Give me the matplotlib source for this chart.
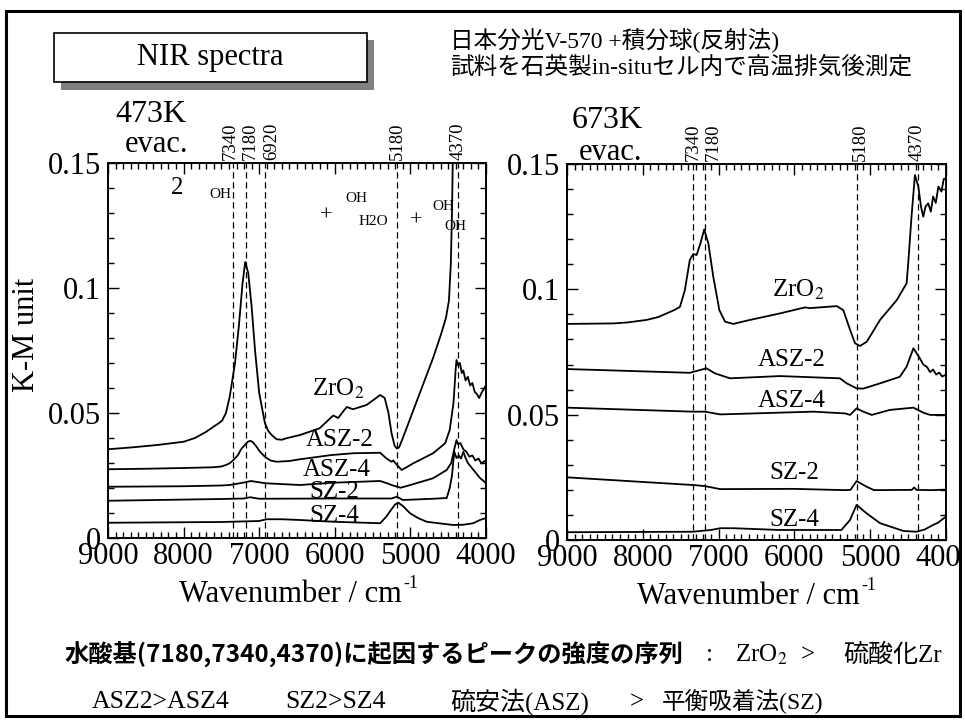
import matplotlib
matplotlib.use("Agg")
from matplotlib import pyplot as plt
from matplotlib.patches import Rectangle
from matplotlib.ticker import MultipleLocator, FixedLocator

plt.rcParams["font.family"] = ["Liberation Serif", "Noto Sans CJK JP"]
plt.rcParams["mathtext.fontset"] = "stix"

# --- 473K evacuation -------------------------------------------------------
zro2_473_wn = [9000, 8700, 8350, 8000, 7850, 7700, 7600, 7530, 7490, 7440, 7390, 7320,
               7270, 7220, 7185, 7145, 7100, 7055, 7000, 6925, 6880, 6835, 6770, 6700,
               6640, 6460, 6200, 6050, 6020, 5955, 5880, 5840, 5760, 5580, 5400, 5340,
               5290, 5250, 5210, 5180, 5150, 5100, 5000, 4900, 4800, 4700, 4600, 4530,
               4490, 4465, 4450, 4435]
zro2_473_km = [0.0355, 0.0362, 0.0372, 0.0385, 0.0400, 0.0425, 0.0446, 0.0460, 0.0470,
               0.0500, 0.0565, 0.0700, 0.0845, 0.1020, 0.1104, 0.1060, 0.0925, 0.0750,
               0.0580, 0.0460, 0.0428, 0.0412, 0.0395, 0.0393, 0.0399, 0.0412, 0.0439,
               0.0482, 0.0490, 0.0480, 0.0510, 0.0524, 0.0515, 0.0532, 0.0572, 0.0560,
               0.0500, 0.0420, 0.0370, 0.0358, 0.0362, 0.0400, 0.0480, 0.0560, 0.0640,
               0.0720, 0.0810, 0.0880, 0.0950, 0.1100, 0.1300, 0.1600]

asz2_473_wn = [9000, 8500, 8000, 7600, 7500, 7440, 7390, 7330, 7280, 7240, 7190, 7150,
               7115, 7080, 7035, 6990, 6925, 6850, 6770, 6600, 6460, 6040, 5755, 5400,
               5320, 5250, 5225, 5200, 5115, 4960, 4700, 4540, 4480, 4430, 4400, 4390,
               4370, 4345, 4320, 4300, 4270, 4240, 4210, 4180, 4150, 4120, 4090, 4060,
               4030, 4000]
asz2_473_km = [0.0275, 0.0277, 0.0280, 0.0283, 0.0286, 0.0292, 0.0299, 0.0315, 0.0332,
               0.0355, 0.0372, 0.0385, 0.0389, 0.0382, 0.0365, 0.0345, 0.0325, 0.0310,
               0.0305, 0.0308, 0.0315, 0.0332, 0.0339, 0.0341, 0.0319, 0.0305, 0.0310,
               0.0300, 0.0272, 0.0299, 0.0339, 0.0379, 0.0432, 0.0540, 0.0680, 0.0712,
               0.0690, 0.0700, 0.0660, 0.0670, 0.0630, 0.0645, 0.0610, 0.0620, 0.0585,
               0.0575, 0.0560, 0.0580, 0.0595, 0.0612]

asz4_473_wn = [9000, 8000, 7500, 7390, 7200, 7110, 6920, 6460, 6040, 5400, 5300, 5250,
               5130, 5000, 4700, 4520, 4460, 4420, 4390, 4370, 4340, 4300, 4260, 4220,
               4180, 4140, 4100, 4060, 4020, 4000]
asz4_473_km = [0.0205, 0.0207, 0.0210, 0.0212, 0.0222, 0.0228, 0.0219, 0.0212, 0.0221,
               0.0228, 0.0218, 0.0212, 0.0201, 0.0212, 0.0239, 0.0272, 0.0300, 0.0355,
               0.0392, 0.0375, 0.0380, 0.0355, 0.0345, 0.0325, 0.0330, 0.0310, 0.0318,
               0.0298, 0.0308, 0.0305]

sz2_473_wn = [9000, 7500, 7200, 7120, 7000, 6000, 5400, 5250, 5180, 5100, 4700, 4520,
              4480, 4450, 4420, 4390, 4360, 4330, 4300, 4270, 4240, 4200, 4160, 4120,
              4080, 4040, 4000]
sz2_473_km = [0.0149, 0.0156, 0.0158, 0.0163, 0.0157, 0.0158, 0.0158, 0.0158, 0.0165,
              0.0152, 0.0157, 0.0160, 0.0200, 0.0250, 0.0345, 0.0320, 0.0330, 0.0318,
              0.0345, 0.0320, 0.0300, 0.0285, 0.0270, 0.0255, 0.0240, 0.0230, 0.0219]

sz4_473_wn = [9000, 7500, 7000, 6900, 6700, 6460, 6020, 5600, 5400, 5320, 5250, 5200,
              5160, 5100, 5005, 4900, 4785, 4600, 4430, 4300, 4170, 4080, 4000]
sz4_473_km = [0.0061, 0.0064, 0.0068, 0.0075, 0.0075, 0.0072, 0.0065, 0.0061, 0.0059,
              0.0085, 0.0115, 0.0135, 0.0141, 0.0128, 0.0099, 0.0080, 0.0065, 0.0058,
              0.0052, 0.0053, 0.0059, 0.0072, 0.0080]

# --- 673K evacuation -------------------------------------------------------
zro2_673_wn = [9000, 8390, 8200, 7950, 7800, 7685, 7580, 7510, 7445, 7380, 7335, 7290,
               7240, 7190, 7135, 7070, 6990, 6915, 6805, 6630, 6190, 5860, 5800, 5440,
               5355, 5265, 5200, 5135, 5045, 4870, 4650, 4520, 4500, 4455, 4410, 4365,
               4330, 4300, 4270, 4235, 4200, 4170, 4135, 4100, 4060, 4030, 4000]
zro2_673_km = [0.0862, 0.0864, 0.0868, 0.0878, 0.0889, 0.0904, 0.0918, 0.0930, 0.0997,
               0.1117, 0.1141, 0.1137, 0.1183, 0.1239, 0.1183, 0.1050, 0.0917, 0.0871,
               0.0862, 0.0875, 0.0904, 0.0928, 0.0925, 0.0933, 0.0917, 0.0838, 0.0785,
               0.0774, 0.0791, 0.0878, 0.0957, 0.1024, 0.1097, 0.1290, 0.1456, 0.1410,
               0.1330, 0.1290, 0.1330, 0.1343, 0.1310, 0.1370, 0.1345, 0.1410, 0.1390,
               0.1440, 0.1443]

asz2_673_wn = [9000, 7380, 7160, 7050, 6850, 6190, 5400, 5310, 5180, 5090, 4870, 4610,
               4520, 4430, 4345, 4300, 4250, 4210, 4170, 4130, 4090, 4050, 4000]
asz2_673_km = [0.0682, 0.0667, 0.0685, 0.0665, 0.0645, 0.0654, 0.0645, 0.0625, 0.0605,
               0.0604, 0.0625, 0.0651, 0.0691, 0.0765, 0.0725, 0.0700, 0.0690, 0.0670,
               0.0680, 0.0660, 0.0668, 0.0652, 0.0660]

asz4_673_wn = [9000, 7340, 7180, 6980, 5750, 5330, 5265, 5180, 5090, 4980, 4740, 4430,
               4300, 4210, 4000]
asz4_673_km = [0.0528, 0.0512, 0.0512, 0.0501, 0.0512, 0.0505, 0.0499, 0.0525, 0.0512,
               0.0499, 0.0519, 0.0528, 0.0508, 0.0499, 0.0499]

sz2_673_wn = [9000, 7320, 7180, 6980, 6000, 5350, 5260, 5180, 5050, 4950, 4450, 4420,
              4390, 4200, 4000]
sz2_673_km = [0.0250, 0.0219, 0.0215, 0.0203, 0.0204, 0.0199, 0.0200, 0.0235, 0.0213,
              0.0199, 0.0200, 0.0210, 0.0200, 0.0199, 0.0201]

sz4_673_wn = [9000, 7340, 7100, 6980, 6800, 6200, 5380, 5266, 5180, 5046, 4870, 4560,
              4390, 4280, 4170, 4100, 4050, 4000]
sz4_673_km = [0.0031, 0.0033, 0.0040, 0.0047, 0.0047, 0.0040, 0.0040, 0.0080, 0.0140,
              0.0106, 0.0067, 0.0036, 0.0033, 0.0042, 0.0060, 0.0070, 0.0082, 0.0093]

# band positions (cm-1) marked with dashed lines
bands_473 = [7340, 7180, 6920, 5180, 4370]
bands_673 = [7340, 7180, 5180, 4370]

sample_names = ["ZrO$_2$", "ASZ-2", "ASZ-4", "SZ-2", "SZ-4"]

W, H = 965, 722
fig = plt.figure(figsize=(W / 100, H / 100), dpi=100)


def fx(px):
    return px / W


def fy(py):
    return 1 - py / H


def setup_axes(ax):
    ax.set_xlim(9000, 4000)
    ax.set_ylim(0, 0.15)
    ax.xaxis.set_major_locator(MultipleLocator(1000))
    ax.xaxis.set_minor_locator(MultipleLocator(100))
    ax.yaxis.set_major_locator(FixedLocator([0, 0.05, 0.1, 0.15]))
    ax.yaxis.set_minor_locator(MultipleLocator(0.01))
    ax.set_yticklabels(["0", "0.05", "0.1", "0.15"])
    ax.tick_params(which="both", direction="in", top=True, right=True, width=1)
    ax.tick_params(which="major", length=8, labelsize=22)
    ax.tick_params(which="minor", length=4)
    ax.tick_params(axis="y", pad=5)
    ax.tick_params(axis="x", pad=3)
    for s in ax.spines.values():
        s.set_linewidth(1.4)


ax1 = fig.add_axes([fx(108), fy(538), (486 - 108) / W, (538 - 163) / H])
ax2 = fig.add_axes([fx(567), fy(540), (946 - 567) / W, (540 - 164) / H])
setup_axes(ax1)
setup_axes(ax2)

curves_473 = [(zro2_473_wn, zro2_473_km), (asz2_473_wn, asz2_473_km),
              (asz4_473_wn, asz4_473_km), (sz2_473_wn, sz2_473_km),
              (sz4_473_wn, sz4_473_km)]
curves_673 = [(zro2_673_wn, zro2_673_km), (asz2_673_wn, asz2_673_km),
              (asz4_673_wn, asz4_673_km), (sz2_673_wn, sz2_673_km),
              (sz4_673_wn, sz4_673_km)]

for wn, km in curves_473:
    ax1.plot(wn, km, color="black", lw=1.3)
for wn, km in curves_673:
    ax2.plot(wn, km, color="black", lw=1.3)

# dashed band markers with rotated wavenumber labels on top
label_shift_473 = [-2.5, 3.2, 5.0, 0.7, 0.0]
label_shift_673 = [0.0, 5.8, 2.4, -0.7]
for ax, bands, shifts in [(ax1, bands_473, label_shift_473), (ax2, bands_673, label_shift_673)]:
    for b, dx in zip(bands, shifts):
        ax.axvline(b, color="black", lw=0.9, ls=(0, (5, 3)), zorder=1)
        ax.annotate(str(b), xy=(b, 1), xycoords=("data", "axes fraction"),
                    xytext=(dx, 2), textcoords="offset points", rotation=90,
                    ha="center", va="bottom", fontsize=13.5)

# sample labels
pos_473 = [(5958, 0.0596), (5931, 0.0392), (5971, 0.0272), (6011, 0.0184), (6011, 0.0088)]
pos_673 = [(5953, 0.0997), (6032, 0.0718), (6032, 0.0554), (6005, 0.0267), (6005, 0.0080)]
for name, (x, y) in zip(sample_names, pos_473):
    ax1.text(x, y, name, ha="center", va="center", fontsize=18)
for name, (x, y) in zip(sample_names, pos_673):
    ax2.text(x, y, name, ha="center", va="center", fontsize=18)

# assignment notes in the 473K panel
notes = [(8087, 0.140, "2", 18), (7519, 0.1372, "OH", 11), (6116, 0.1288, "+", 16),
         (5720, 0.1360, "OH", 11), (5495, 0.1264, "H2O", 11), (4926, 0.1268, "+", 16),
         (4569, 0.1328, "OH", 11), (4410, 0.1244, "OH", 11)]
for x, y, s, size in notes:
    ax1.text(x, y, s, ha="center", va="center", fontsize=size)

# axis titles
fig.text(fx(27), fy(335), "K-M unit", rotation=90, ha="center", va="center", fontsize=22)
for right_px, base_px in [(402, 602), (860, 604)]:
    fig.text(fx(right_px), fy(base_px), "Wavenumber / cm", ha="right", va="baseline", fontsize=22)
    fig.text(fx(right_px + 1), fy(base_px - 14), "-1", ha="left", va="baseline", fontsize=13)

fig.text(fx(151), fy(114), "473K", ha="center", va="center", fontsize=23)
fig.text(fx(156), fy(144), "evac.", ha="center", va="center", fontsize=22)
fig.text(fx(607), fy(121), "673K", ha="center", va="center", fontsize=23)
fig.text(fx(611), fy(152), "evac.", ha="center", va="center", fontsize=22)

# title box with drop shadow
fig.add_artist(Rectangle((fx(61), fy(90)), (374 - 61) / W, (90 - 40) / H,
                         transform=fig.transFigure, facecolor="#808080", edgecolor="none"))
fig.add_artist(Rectangle((fx(54), fy(82)), (367 - 54) / W, (82 - 33) / H,
                         transform=fig.transFigure, facecolor="white", edgecolor="black", lw=1.2))
fig.text(fx(210), fy(58), "NIR spectra", ha="center", va="center", fontsize=22)

fig.text(fx(450), fy(40), "日本分光V-570 +積分球(反射法)", ha="left", va="center", fontsize=17)
fig.text(fx(450), fy(67), "試料を石英製in-situセル内で高温排気後測定", ha="left", va="center", fontsize=17)

# summary lines
fig.text(fx(65), fy(655), "水酸基(7180,7340,4370)に起因するピークの強度の序列",
         family="Noto Sans CJK JP", weight="bold", ha="left", va="center", fontsize=17.5)
fig.text(fx(710), fy(655), ":", ha="center", va="center", fontsize=18)
fig.text(fx(735), fy(655), "ZrO$_2$", ha="left", va="center", fontsize=18)
fig.text(fx(808), fy(655), ">", ha="center", va="center", fontsize=18)
fig.text(fx(843), fy(655), "硫酸化Zr", ha="left", va="center", fontsize=18)

fig.text(fx(92), fy(702), "ASZ2>ASZ4", ha="left", va="center", fontsize=18.5)
fig.text(fx(285), fy(702), "SZ2>SZ4", ha="left", va="center", fontsize=18.5)
fig.text(fx(450), fy(702), "硫安法(ASZ)", ha="left", va="center", fontsize=18)
fig.text(fx(637), fy(702), ">", ha="center", va="center", fontsize=18)
fig.text(fx(662), fy(702), "平衡吸着法(SZ)", ha="left", va="center", fontsize=17)

# outer frame
fig.add_artist(Rectangle((fx(6), fy(716)), (960 - 6) / W, (716 - 10.5) / H,
                         transform=fig.transFigure, fill=False, edgecolor="black", lw=2.2))
fig.add_artist(Rectangle((fx(962), 0), 3 / W, 1, transform=fig.transFigure,
                         facecolor="white", edgecolor="none", zorder=10))

fig.savefig("out.png", dpi=100)
